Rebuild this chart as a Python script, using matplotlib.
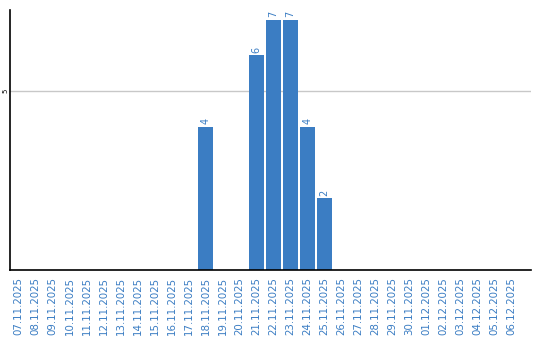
import matplotlib
matplotlib.use("Agg")
import matplotlib.pyplot as plt
import pandas as pd

dates = pd.date_range("2025-11-07", "2025-12-06", freq="D")
labels = [d.strftime("%d.%m.%Y") for d in dates]
counts = {"18.11.2025": 4, "21.11.2025": 6, "22.11.2025": 7,
          "23.11.2025": 7, "24.11.2025": 4, "25.11.2025": 2}
values = [counts.get(l, 0) for l in labels]

blue = '#3b7dc3'

fig = plt.figure(figsize=(5.4, 3.4), dpi=100)
ax = fig.add_axes([10/540, 70/340, 521/540, 260/340])

x = list(range(len(labels)))
ax.bar(x, values, width=0.84, color=blue, zorder=2)
for xi, v in zip(x, values):
    if v > 0:
        ax.text(xi, v + 0.08, str(v), rotation=90, ha='center', va='bottom',
                color=blue, fontsize=7)

ax.set_xlim(-0.5, 30.15)
ax.set_ylim(0, 7.27)
ax.set_yticks([5])
ax.set_yticklabels(['5'], rotation=90, va='center', fontsize=5)
ax.axhline(5, color='#c8c8c8', lw=1, zorder=1)

ax.set_xticks(x)
ax.set_xticklabels(labels, rotation=90, color=blue, fontsize=7.4)
ax.tick_params(axis='x', length=0, pad=5)
ax.tick_params(axis='y', length=0, pad=1)

ax.spines['top'].set_visible(False)
ax.spines['right'].set_visible(False)
ax.spines['left'].set_linewidth(1.2)
ax.spines['bottom'].set_linewidth(1.2)

fig.savefig("out.png", dpi=100)
